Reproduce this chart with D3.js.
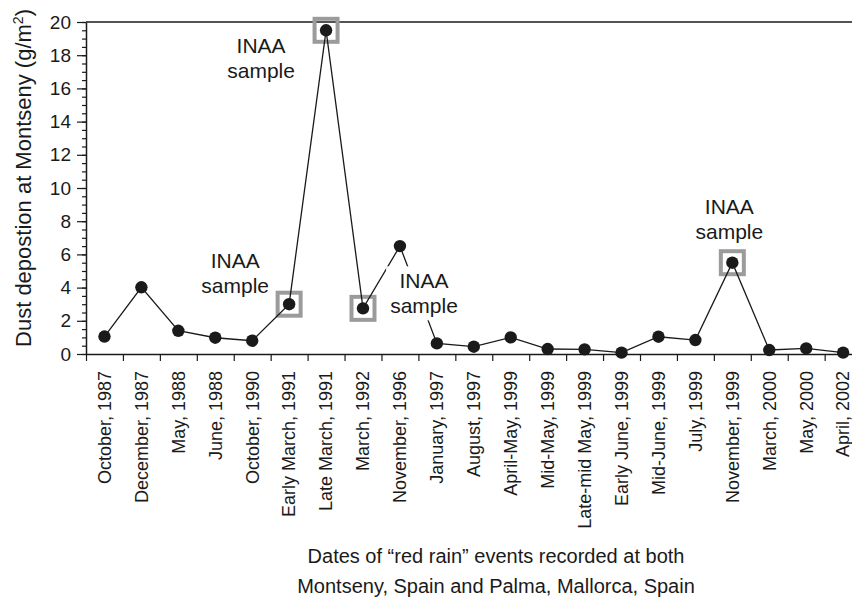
<!DOCTYPE html>
<html>
<head>
<meta charset="utf-8">
<script src="https://cdn.jsdelivr.net/npm/d3@7"></script>
<style>
  html, body { margin: 0; padding: 0; background: #fff; }
  svg { display: block; font-family: "Liberation Sans", Arial, Helvetica, sans-serif; }
</style>
</head>
<body>
<script>
// "Red rain" events recorded at Montseny and Palma, with dust deposition at Montseny
const categories = [
  "October, 1987", "December, 1987", "May, 1988", "June, 1988", "October, 1990",
  "Early March, 1991", "Late March, 1991", "March, 1992", "November, 1996",
  "January, 1997", "August, 1997", "April-May, 1999", "Mid-May, 1999",
  "Late-mid May, 1999", "Early June, 1999", "Mid-June, 1999", "July, 1999",
  "November, 1999", "March, 2000", "May, 2000", "April, 2002"
];
const dust = [
  1.05, 4.02, 1.4, 0.98, 0.8,
  3.0, 19.5, 2.75, 6.5,
  0.64, 0.44, 1.0, 0.3,
  0.28, 0.08, 1.04, 0.84,
  5.5, 0.24, 0.34, 0.08
];
const yTicks = [0, 2, 4, 6, 8, 10, 12, 14, 16, 18, 20];
// events whose samples went to INAA analysis
const inaaSamples = ["Early March, 1991", "Late March, 1991", "March, 1992", "November, 1999"];
const inaaText = ["INAA", "sample"];

const W = 852, H = 601;
const plotLeft = 86, plotRight = 861.6, plotTop = 22, plotBottom = 354;
const ink = "#1a1a1a";

const svg = d3.select("body").append("svg")
  .attr("width", W).attr("height", H);

const x = d3.scaleBand().domain(categories).range([plotLeft, plotRight]).padding(0);
const y = d3.scaleLinear().domain([0, 20]).range([plotBottom, plotTop]);
const xEdges = d3.scaleLinear().domain([0, categories.length]).range([plotLeft, plotRight]);

const points = categories.map((c, i) => ({ cat: c, v: dust[i] }));
const px = d => x(d.cat) + x.bandwidth() / 2;
const py = d => y(d.v);

// top border of the plot frame
svg.append("line")
  .attr("x1", plotLeft).attr("x2", plotRight).attr("y1", plotTop).attr("y2", plotTop)
  .attr("stroke", ink).attr("stroke-width", 1.5);

// y axis: minor ticks every 0.5, labelled ticks every 2
svg.append("g")
  .attr("transform", `translate(${plotLeft},0)`)
  .call(d3.axisLeft(y).tickValues(d3.range(0, 20.01, 0.5)).tickSize(4).tickFormat(""))
  .call(g => g.select(".domain").remove())
  .call(g => g.selectAll("line").attr("stroke", ink).attr("stroke-width", 1.2));

svg.append("g")
  .attr("transform", `translate(${plotLeft},0)`)
  .call(d3.axisLeft(y).tickValues(yTicks).tickSize(9).tickSizeOuter(0).tickPadding(6))
  .call(g => g.select(".domain").attr("stroke", ink).attr("stroke-width", 1.5))
  .call(g => g.selectAll("line").attr("stroke", ink).attr("stroke-width", 1.2))
  .call(g => g.selectAll("text").attr("font-size", 19).attr("fill", ink)
    .attr("font-family", "Liberation Sans, Arial, sans-serif"));

// x axis: ticks on the boundaries between events
svg.append("g")
  .attr("transform", `translate(0,${plotBottom})`)
  .call(d3.axisBottom(xEdges).tickValues(d3.range(0, categories.length + 1)).tickSize(7).tickSizeOuter(0).tickFormat(""))
  .call(g => g.select(".domain").attr("stroke", ink).attr("stroke-width", 1.5))
  .call(g => g.selectAll("line").attr("stroke", ink).attr("stroke-width", 1.2));

// x axis labels, rotated and centred on each event
svg.append("g")
  .attr("transform", `translate(0,${plotBottom})`)
  .call(d3.axisBottom(x).tickSize(0))
  .call(g => g.select(".domain").remove())
  .call(g => g.selectAll("text")
    .attr("font-size", 18).attr("fill", ink)
    .attr("font-family", "Liberation Sans, Arial, sans-serif")
    .attr("text-anchor", "end")
    .attr("transform", "rotate(-90)")
    .attr("x", -17).attr("y", 0).attr("dy", "0.35em"));

// grey frames around the INAA samples
const sampled = points.filter(d => inaaSamples.includes(d.cat));
svg.append("g").selectAll("rect")
  .data(sampled).join("rect")
  .attr("x", d => px(d) - 11.5).attr("y", d => py(d) - 11.5)
  .attr("width", 23).attr("height", 23)
  .attr("fill", "none").attr("stroke", "#9b9b9b").attr("stroke-width", 4);

// connecting line
svg.append("path")
  .datum(points)
  .attr("fill", "none").attr("stroke", ink).attr("stroke-width", 1.3)
  .attr("d", d3.line().x(px).y(py));

// markers
svg.append("g").selectAll("circle")
  .data(points).join("circle")
  .attr("cx", px).attr("cy", py).attr("r", 6.2)
  .attr("fill", ink);

// "INAA sample" labels, offset from their points
const labelOffsets = [
  { cat: "Early March, 1991", dx: -54, dy: -36 },
  { cat: "Late March, 1991", dx: -65, dy: 23 },
  { cat: "March, 1992", dx: 61, dy: -20 },
  { cat: "November, 1999", dx: -3, dy: -49 }
];
const labels = svg.append("g");
labelOffsets.forEach(o => {
  const d = points.find(p => p.cat === o.cat);
  const g = labels.append("g")
    .attr("transform", `translate(${px(d) + o.dx},${py(d) + o.dy})`);
  const bg = g.append("rect").attr("fill", "#fff");
  const t = g.append("text")
    .attr("text-anchor", "middle").attr("font-size", 21).attr("fill", ink);
  inaaText.forEach((s, i) => t.append("tspan").attr("x", 0).attr("y", i * 25).text(s));
  const b = t.node().getBBox();
  bg.attr("x", b.x - 4).attr("y", b.y - 3).attr("width", b.width + 8).attr("height", b.height + 6);
});

// axis titles
svg.append("text")
  .attr("transform", `translate(31,178) rotate(-90)`)
  .attr("text-anchor", "middle").attr("font-size", 22).attr("fill", ink)
  .call(t => {
    t.append("tspan").text("Dust depostion at Montseny (g/m");
    t.append("tspan").attr("baseline-shift", "super").attr("font-size", 14).text("2");
    t.append("tspan").text(")");
  });

const xTitle = ["Dates of \u201cred rain\u201d events recorded at both", "Montseny, Spain and Palma, Mallorca, Spain"];
svg.append("g").selectAll("text")
  .data(xTitle).join("text")
  .attr("x", 496).attr("y", (d, i) => 563 + i * 30)
  .attr("text-anchor", "middle").attr("font-size", 20).attr("fill", ink)
  .text(d => d);
</script>
</body>
</html>
